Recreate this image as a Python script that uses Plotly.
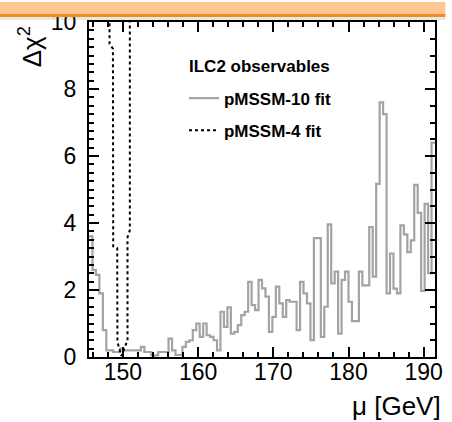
import numpy as np
import plotly.graph_objects as go

# ---------------- data ----------------
# pMSSM-10 fit: binned delta-chi2 scan, 100 bins between 145.5 and 191.5 GeV
hist_lo = 145.5
hist_hi = 191.5
chi2_p10 = [3.6, 2.6, 2.45, 1.9, 0.8, 0.2, 0.2, 0.15, 0.15, 0.25,
            0.2, 0.2, 0.2, 0.2, 0.2, 0.3, 0.15, 0.15, 0.05, 0.05,
            0.15, 0.15, 0.15, 0.55, 0.2, 0.06, 0.06, 0.3, 0.45, 0.5,
            0.8, 1.0, 0.6, 1.0, 0.65, 0.6, 0.5, 0.2, 1.35, 0.9,
            1.48, 0.7, 0.75, 0.95, 1.25, 1.35, 2.24, 1.55, 1.4, 2.3,
            2.05, 1.8, 0.75, 1.2, 2.1, 1.6, 1.2, 1.7, 1.65, 1.65,
            0.8, 2.24, 1.9, 1.6, 0.5, 3.55, 3.55, 0.6, 1.5, 3.96,
            2.2, 2.55, 0.7, 2.3, 2.55, 1.65, 1.07, 1.07, 2.55, 2.14,
            2.14, 3.88, 2.4, 5.17, 7.6, 7.25, 1.9, 3.09, 2.04, 1.9,
            3.93, 3.66, 3.13, 3.48, 5.14, 4.3, 1.97, 4.57, 2.5, 6.4]

# pMSSM-4 fit: scan curve (mu in GeV, delta-chi2)
mu_p4 = [148.23, 148.23, 148.68, 148.72, 149.25, 149.28, 149.8, 150.62, 150.62, 150.93, 150.93]
chi2_p4 = [10.5, 9.35, 9.2, 3.3, 3.25, 0.45, 0.03, 0.5, 3.58, 3.78, 10.5]

series_names = ["pMSSM-10 fit", "pMSSM-4 fit"]
legend_title = "ILC2 observables"
x_ticks = [150, 160, 170, 180, 190]
y_ticks = [0, 2, 4, 6, 8, 10]

# ---------------- figure ----------------
FONT = "Liberation Sans, Arial, Helvetica, sans-serif"
nb = len(chi2_p10)
edges = np.linspace(hist_lo, hist_hi, nb + 1)
y_step = list(chi2_p10) + [chi2_p10[-1]]

fig = go.Figure()
fig.add_trace(go.Scatter(
    x=edges, y=y_step, mode="lines", line=dict(shape="hv", color="#a3a3a3", width=2.2),
    name=series_names[0], legendgroup="a", hoverinfo="skip"))
fig.add_trace(go.Scatter(
    x=mu_p4, y=chi2_p4, mode="lines", line=dict(color="black", width=2, dash="dot"),
    name=series_names[1], legendgroup="b", yaxis="y2", hoverinfo="skip"))

axis_common = dict(showline=True, linecolor="black", linewidth=2, ticks="inside",
                   tickcolor="black", tickwidth=1.5, showgrid=False, zeroline=False,
                   tickfont=dict(family=FONT, size=23, color="black"))

fig.update_layout(
    width=452, height=422,
    margin=dict(l=89, r=9, t=20, b=65),
    paper_bgcolor="white", plot_bgcolor="white",
    font=dict(family=FONT, color="black"),
    xaxis=dict(range=[hist_lo, hist_hi], tickvals=x_ticks, ticklen=10, mirror="ticks",
               minor=dict(dtick=2, ticklen=5, ticks="inside", tickcolor="black", tickwidth=1.5),
               ticklabelstandoff=-7, **axis_common),
    yaxis=dict(range=[0, 10], tickvals=y_ticks, ticklen=10, mirror=False,
               minor=dict(dtick=0.25, ticklen=5, ticks="inside", tickcolor="black", tickwidth=1.5),
               ticklabelstandoff=6, **axis_common),
    yaxis2=dict(range=[0, 10], overlaying="y", side="right", tickvals=y_ticks, ticklen=10,
                showticklabels=False,
                minor=dict(dtick=0.5, ticklen=5, ticks="inside", tickcolor="black", tickwidth=1.5),
                **axis_common),
    legend=dict(x=0.2745, y=0.825, xanchor="left", yanchor="top",
                bgcolor="rgba(0,0,0,0)", borderwidth=0,
                font=dict(family=FONT, size=17, weight="bold", color="black"),
                traceorder="grouped", tracegroupgap=7),
    showlegend=True,
)

# legend heading
fig.add_annotation(text="<b>" + legend_title + "</b>", xref="paper", yref="paper",
                   x=0.282, y=0.8665, xanchor="left", yanchor="middle", showarrow=False,
                   font=dict(family=FONT, size=17, color="black"))

# axis titles (ROOT style: aligned at the axis ends)
fig.add_annotation(text="Δχ<sup>2</sup>", xref="paper", yref="paper", x=-0.17, y=0.925,
                   xanchor="center", yanchor="middle", textangle=-90, showarrow=False,
                   font=dict(family=FONT, size=26, color="black"))
fig.add_annotation(text="μ [GeV]", xref="paper", yref="paper", x=1.022, y=-0.146,
                   xanchor="right", yanchor="middle", showarrow=False,
                   font=dict(family=FONT, size=26, color="black"))

# slide header band at the top of the picture
fig.add_shape(type="rect", xref="paper", yref="paper", x0=-0.26, x1=1.03, y0=1.0208, y1=1.0600,
              fillcolor="#fec690", line_width=0, layer="above")
fig.add_shape(type="rect", xref="paper", yref="paper", x0=-0.26, x1=1.03, y0=1.0148, y1=1.0237,
              fillcolor="#f0901f", line_width=0, layer="above")
fig.add_shape(type="rect", xref="paper", yref="paper", x0=-0.26, x1=1.03, y0=1.0060, y1=1.0148,
              fillcolor="rgba(120,120,120,0.18)", line_width=0, layer="above")

fig.write_html("out.html")
